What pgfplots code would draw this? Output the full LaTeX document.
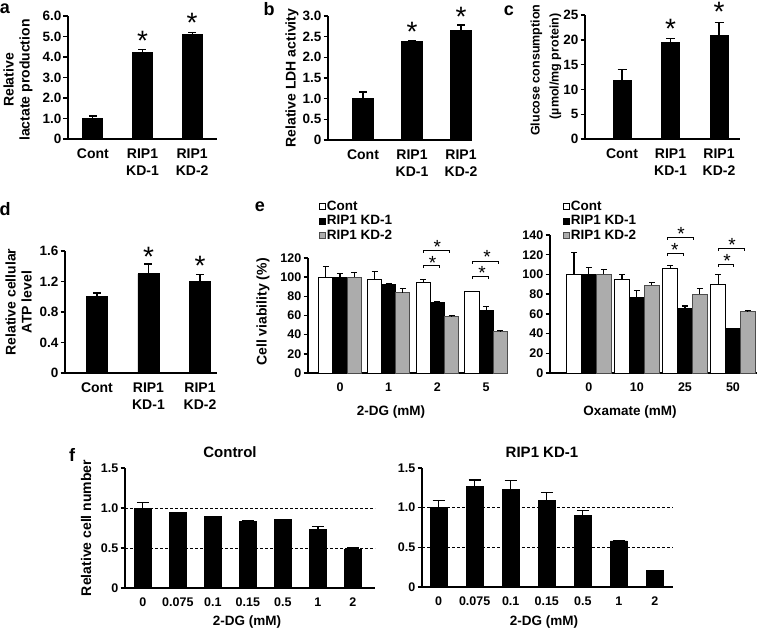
\documentclass[border=0pt]{standalone}
\usepackage{pgfplots}
\pgfplotsset{compat=1.18}
\usepackage{pgfplotstable}
\usepackage{fontspec}
\setmainfont{Liberation Sans}
\newcommand\FS[1]{\fontsize{#1}{#1}\selectfont}

\pgfplotstableread{
x y e
0 1.00 0.12
1 4.23 0.15
2 5.10 0.08
}\tabA
\pgfplotstableread{
x y e
0 1.00 0.16
1 2.38 0.02
2 2.66 0.12
}\tabB
\pgfplotstableread{
x y e
0 11.8 2.2
1 19.5 0.8
2 20.8 2.7
}\tabC
\pgfplotstableread{
x y e
0 1.00 0.05
1 1.30 0.13
2 1.20 0.09
}\tabD
\pgfplotstableread{
x c ce k ke g ge
0 100 11 100 3.5 100 5
1 98 8 92 1 84 4
2 94 4 74 1 59 1
3 85 0.5 65 4 43 1
}\tabEL
\pgfplotstableread{
x c ce k ke g ge
0 100 22 100 7 100 5
1 95 5 77 7 89 3
2 106 3 65 3 80 6
3 90 10 45 0.5 62 1.5
}\tabER
\pgfplotstableread{
x y e
0 1.00 0.07
1 0.94 0
2 0.89 0
3 0.83 0.01
4 0.86 0
5 0.73 0.04
6 0.48 0.02
}\tabFC
\pgfplotstableread{
x y e
0 1.00 0.09
1 1.27 0.08
2 1.23 0.11
3 1.09 0.10
4 0.90 0.06
5 0.58 0.005
6 0.21 0
}\tabFK

\pgfplotsset{
  panel/.style={
    scale only axis, anchor=south west, axis lines*=left,
    axis line style={line width=1.4pt, black},
    tick align=outside, major tick length=4.5pt,
    ytick style={line width=1.4pt, black},
    xtick style={draw=none},
    clip=false, ymin=0,
    yticklabel style={font=\bfseries\FS{13.5}, inner sep=2pt},
    xticklabel style={font=\bfseries\fontsize{14}{17}\selectfont, align=center, inner sep=2pt, yshift=-3pt},
  },
  sbar/.style={ybar, bar width=#1, fill=black, draw=black, line width=0.8pt,
    error bars/y dir=plus, error bars/y explicit,
    error bars/error bar style={line width=1.2pt, black},
    error bars/error mark options={rotate=90, line width=1.2pt, black, mark size=4pt}},
  gbar/.style={ybar, bar width=#1, bar shift=0pt, draw=black, line width=0.9pt, forget plot,
    error bars/y dir=plus, error bars/y explicit,
    error bars/error bar style={line width=1.1pt, black},
    error bars/error mark options={rotate=90, line width=1.1pt, black, mark size=3pt}},
}
\tikzset{
  sig/.style={font=\FS{28}, inner sep=0pt, yshift=-5.5pt},
  sigs/.style={font=\FS{19}, inner sep=0pt, yshift=-3.8pt},
  brk/.style={line width=0.9pt, black},
  lab/.style={font=\bfseries\fontsize{14}{16}\selectfont},
}

\begin{document}
\begin{tikzpicture}
\path[use as bounding box] (0pt,0pt) rectangle (758pt,-630pt);

% ---------- a
\begin{axis}[panel, at={(68pt,-139pt)}, width=149pt, height=123pt,
  xmin=-0.5, xmax=2.5, ymax=6, ytick={0,1,...,6},
  yticklabels={0,1.0,2.0,3.0,4.0,5.0,6.0},
  xtick={0,1,2}, xticklabels={Cont,{RIP1\\KD-1},{RIP1\\KD-2}}]
\addplot[sbar=0.4] table[x=x,y=y,y error=e]{\tabA};
\node[sig] at (axis cs:1,5.07) {*};
\node[sig] at (axis cs:2,5.95) {*};
\end{axis}

% ---------- b
\begin{axis}[panel, at={(328pt,-140pt)}, width=144pt, height=124pt,
  xmin=-0.714, xmax=2.224, ymax=3, ytick={0,0.5,...,3},
  yticklabels={0,0.5,1.0,1.5,2.0,2.5,3.0},
  xtick={0,1,2}, xticklabels={Cont,{RIP1\\KD-1},{RIP1\\KD-2}}]
\addplot[sbar=0.43] table[x=x,y=y,y error=e]{\tabB};
\node[sig] at (axis cs:1,2.76) {*};
\node[sig] at (axis cs:2,3.12) {*};
\end{axis}

% ---------- c
\begin{axis}[panel, at={(585pt,-139pt)}, width=155pt, height=124pt,
  xmin=-0.763, xmax=2.433, ymax=25, ytick={0,5,...,25},
  yticklabels={0,5,10,15,20,25},
  xtick={0,1,2}, xticklabels={Cont,{RIP1\\KD-1},{RIP1\\KD-2}}]
\addplot[sbar=0.37, error bars/error mark options={rotate=90, line width=1.2pt, black, mark size=4.5pt}] table[x=x,y=y,y error=e]{\tabC};
\node[sig] at (axis cs:1,23.3) {*};
\node[sig] at (axis cs:2,26.8) {*};
\end{axis}

% ---------- d
\begin{axis}[panel, at={(65pt,-373pt)}, width=152pt, height=122pt,
  xmin=-0.62, xmax=2.33, ymax=1.6, ytick={0,0.4,0.8,1.2,1.6},
  yticklabels={0,0.4,0.8,1.2,1.6},
  xtick={0,1,2}, xticklabels={Cont,{RIP1\\KD-1},{RIP1\\KD-2}}]
\addplot[sbar=0.41] table[x=x,y=y,y error=e]{\tabD};
\node[sig] at (axis cs:1,1.60) {*};
\node[sig] at (axis cs:2,1.48) {*};
\end{axis}

% ---------- e left
\begin{axis}[panel, at={(308pt,-373pt)}, width=200pt, height=115pt,
  xmin=-0.657, xmax=3.45, ymax=120, ytick={0,20,...,120},
  yticklabels={0,20,40,60,80,100,120},
  yticklabel style={font=\bfseries\FS{12.5}},
  xtick={0,1,2,3}, xticklabels={0,1,2,5},
  xticklabel style={font=\bfseries\FS{12.5}},
  legend style={draw=none, fill=none, at={(axis description cs:0.055,1.504)}, anchor=north west,
    font=\bfseries\FS{13.5}, inner sep=0pt, row sep=1.5pt, nodes={inner sep=1pt}},
  legend cell align=left]
\addlegendimage{legend image code/.code={\draw[fill=white,draw=black,line width=0.7pt] (0pt,-3pt) rectangle (6pt,3pt);}}
\addlegendentry{Cont}
\addlegendimage{legend image code/.code={\draw[fill=black,draw=black,line width=0.7pt] (0pt,-3pt) rectangle (6pt,3pt);}}
\addlegendentry{RIP1 KD-1}
\addlegendimage{legend image code/.code={\draw[fill=gray!65,draw=gray!60!black,line width=0.7pt] (0pt,-3pt) rectangle (6pt,3pt);}}
\addlegendentry{RIP1 KD-2}
\addplot[gbar=0.29, fill=white] table[x expr=\thisrow{x}-0.29,y=c,y error=ce]{\tabEL};
\addplot[gbar=0.29, fill=black] table[x=x,y=k,y error=ke]{\tabEL};
\addplot[gbar=0.29, fill=gray!65, draw=gray!60!black] table[x expr=\thisrow{x}+0.29,y=g,y error=ge]{\tabEL};
\draw[brk] (axis cs:1.71,128.4) ++(0pt,-3pt) -- ++(0pt,3pt) -- (axis cs:2.25,128.4) -- ++(0pt,-3pt);
\draw[brk] (axis cs:1.71,112.7) ++(0pt,-3pt) -- ++(0pt,3pt) -- (axis cs:2.04,112.7) -- ++(0pt,-3pt);
\node[sigs] at (axis cs:2.0,135.7) {*};
\node[sigs] at (axis cs:1.9,119) {*};
\draw[brk] (axis cs:2.73,116.9) ++(0pt,-3pt) -- ++(0pt,3pt) -- (axis cs:3.25,116.9) -- ++(0pt,-3pt);
\draw[brk] (axis cs:2.73,101.2) ++(0pt,-3pt) -- ++(0pt,3pt) -- (axis cs:3.04,101.2) -- ++(0pt,-3pt);
\node[sigs] at (axis cs:3.02,125.2) {*};
\node[sigs] at (axis cs:2.92,108.5) {*};
\end{axis}

% ---------- e right
\begin{axis}[panel, at={(550pt,-373pt)}, width=207pt, height=138pt,
  xmin=-0.81, xmax=3.5, ymax=140, ytick={0,20,...,140},
  yticklabels={0,20,40,60,80,100,120,140},
  yticklabel style={font=\bfseries\FS{12.5}},
  xtick={0,1,2,3}, xticklabels={0,10,25,50},
  xticklabel style={font=\bfseries\FS{12.5}},
  legend style={draw=none, fill=none, at={(axis description cs:0.063,1.254)}, anchor=north west,
    font=\bfseries\FS{13.5}, inner sep=0pt, row sep=1.5pt, nodes={inner sep=1pt}},
  legend cell align=left]
\addlegendimage{legend image code/.code={\draw[fill=white,draw=black,line width=0.7pt] (0pt,-3pt) rectangle (6pt,3pt);}}
\addlegendentry{Cont}
\addlegendimage{legend image code/.code={\draw[fill=black,draw=black,line width=0.7pt] (0pt,-3pt) rectangle (6pt,3pt);}}
\addlegendentry{RIP1 KD-1}
\addlegendimage{legend image code/.code={\draw[fill=gray!65,draw=gray!60!black,line width=0.7pt] (0pt,-3pt) rectangle (6pt,3pt);}}
\addlegendentry{RIP1 KD-2}
\addplot[gbar=0.31, fill=white] table[x expr=\thisrow{x}-0.31,y=c,y error=ce]{\tabER};
\addplot[gbar=0.31, fill=black] table[x=x,y=k,y error=ke]{\tabER};
\addplot[gbar=0.31, fill=gray!65, draw=gray!60!black] table[x expr=\thisrow{x}+0.31,y=g,y error=ge]{\tabER};
\draw[brk] (axis cs:1.625,138) ++(0pt,-3pt) -- ++(0pt,3pt) -- (axis cs:2.17,138) -- ++(0pt,-3pt);
\draw[brk] (axis cs:1.625,121.7) ++(0pt,-3pt) -- ++(0pt,3pt) -- (axis cs:1.96,121.7) -- ++(0pt,-3pt);
\node[sigs] at (axis cs:1.92,145) {*};
\node[sigs] at (axis cs:1.79,128.8) {*};
\draw[brk] (axis cs:2.69,126.8) ++(0pt,-3pt) -- ++(0pt,3pt) -- (axis cs:3.23,126.8) -- ++(0pt,-3pt);
\draw[brk] (axis cs:2.69,110.6) ++(0pt,-3pt) -- ++(0pt,3pt) -- (axis cs:3.0,110.6) -- ++(0pt,-3pt);
\node[sigs] at (axis cs:2.98,134) {*};
\node[sigs] at (axis cs:2.875,117.7) {*};
\end{axis}

% ---------- f control
\begin{axis}[panel, at={(125pt,-588pt)}, width=250pt, height=120pt,
  xmin=-0.51, xmax=6.63, ymax=1.5, ytick={0,0.5,1,1.5},
  yticklabels={0,0.5,1.0,1.5},
  yticklabel style={font=\bfseries\FS{12.5}},
  xtick={0,...,6}, xticklabels={0,0.075,0.1,0.15,0.5,1,2},
  xticklabel style={font=\bfseries\FS{12.5}}]
\addplot[black, line width=1pt, dash pattern=on 3pt off 2pt, forget plot] coordinates {(-0.51,1) (6.63,1)};
\addplot[black, line width=1pt, dash pattern=on 3pt off 2pt, forget plot] coordinates {(-0.51,0.5) (6.63,0.5)};
\addplot[sbar=0.49, error bars/error mark options={rotate=90, line width=1.2pt, black, mark size=6pt}] table[x=x,y=y,y error=e]{\tabFC};
\end{axis}

% ---------- f RIP1 KD-1
\begin{axis}[panel, at={(422pt,-587pt)}, width=251pt, height=119pt,
  xmin=-0.46, xmax=6.5, ymax=1.5, ytick={0,0.5,1,1.5},
  yticklabels={0,0.5,1.0,1.5},
  yticklabel style={font=\bfseries\FS{12.5}},
  xtick={0,...,6}, xticklabels={0,0.075,0.1,0.15,0.5,1,2},
  xticklabel style={font=\bfseries\FS{12.5}}]
\addplot[black, line width=1pt, dash pattern=on 3pt off 2pt, forget plot] coordinates {(-0.46,1) (6.5,1)};
\addplot[black, line width=1pt, dash pattern=on 3pt off 2pt, forget plot] coordinates {(-0.46,0.5) (6.5,0.5)};
\addplot[sbar=0.47, error bars/error mark options={rotate=90, line width=1.2pt, black, mark size=6pt}] table[x=x,y=y,y error=e]{\tabFK};
\end{axis}

% ---------- text
\node[font=\bfseries\FS{18}] at (5pt,-8.5pt) {a};
\node[font=\bfseries\FS{18}] at (269pt,-9pt) {b};
\node[font=\bfseries\FS{18}] at (509pt,-11pt) {c};
\node[font=\bfseries\FS{18}] at (5pt,-209pt) {d};
\node[font=\bfseries\FS{18}] at (260pt,-207pt) {e};
\node[font=\bfseries\FS{18}] at (72pt,-455pt) {f};

\node[lab, rotate=90, align=center] at (18pt,-80pt) {Relative\\lactate production};
\node[lab, rotate=90] at (292pt,-78pt) {Relative LDH activity};
\node[rotate=90, align=right, anchor=east, font=\bfseries\fontsize{12.5}{19}\selectfont] at (546pt,-1pt) {Glucose consumption\\(µmol/mg protein)\hspace*{9pt}};
\node[lab, rotate=90, align=center] at (18.5pt,-302pt) {Relative cellular\\ATP level};
\node[lab, rotate=90] at (263pt,-312pt) {Cell viability (\%)};
\node[lab, rotate=90] at (86pt,-528pt) {Relative cell number};

\node[font=\bfseries\FS{13.5}] at (391pt,-412pt) {2-DG (mM)};
\node[font=\bfseries\FS{13.5}] at (630pt,-412pt) {Oxamate (mM)};
\node[font=\bfseries\FS{13.5}] at (247pt,-622pt) {2-DG (mM)};
\node[font=\bfseries\FS{13.5}] at (544pt,-622pt) {2-DG (mM)};
\node[font=\bfseries\FS{15}] at (230pt,-452pt) {Control};
\node[font=\bfseries\FS{15}] at (542pt,-452pt) {RIP1 KD-1};
\end{tikzpicture}
\end{document}
